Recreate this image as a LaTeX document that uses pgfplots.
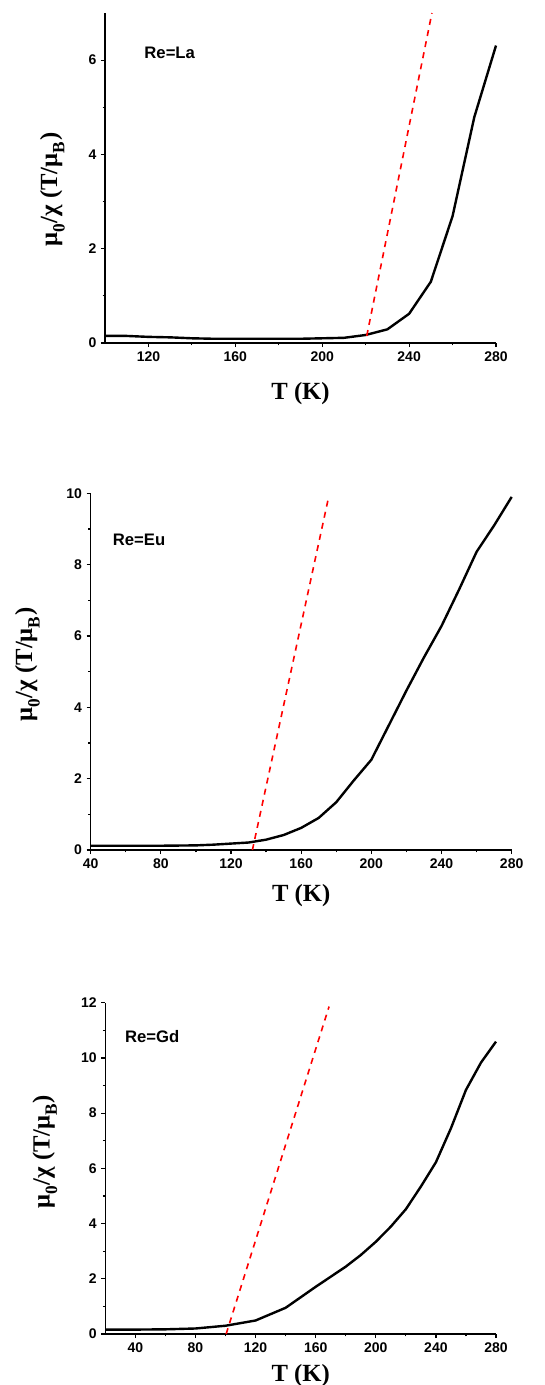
\documentclass[border=0pt]{standalone}
\usepackage{pgfplots}
\pgfplotsset{compat=1.18}
\usepackage{fontspec}
\setmainfont{Liberation Serif}
\newfontfamily\arial{Liberation Sans}

% panel data
\pgfplotstableread{
T chi
100 0.15
110 0.15
120 0.13
130 0.12
140 0.10
150 0.09
160 0.09
170 0.09
180 0.09
190 0.09
200 0.10
210 0.11
220 0.17
230 0.29
240 0.62
250 1.30
260 2.69
270 4.79
280 6.31
}\dataLa
\pgfplotstableread{
T chi
40 0.12
60 0.12
80 0.12
100 0.13
110 0.15
120 0.18
130 0.21
140 0.29
150 0.42
160 0.62
170 0.90
180 1.34
190 1.95
200 2.53
210 3.50
220 4.47
230 5.40
240 6.28
250 7.30
260 8.36
270 9.10
280 9.90
}\dataEu
\pgfplotstableread{
T chi
20 0.16
40 0.16
60 0.17
80 0.20
100 0.30
120 0.49
140 0.95
160 1.71
180 2.44
190 2.86
200 3.34
210 3.89
220 4.52
230 5.34
240 6.22
250 7.45
260 8.84
270 9.83
280 10.59
}\dataGd

\pgfplotsset{
  panel/.style={
    scale only axis,
    anchor=south west,
    axis x line*=bottom, axis y line*=left,
    axis line style={line width=0.9pt},
    tick style={black, line width=0.9pt},
    tick align=outside,
    major tick length=3pt, minor tick length=1.8pt,
    minor x tick num=1, minor y tick num=1,
    /pgf/number format/assume math mode=true,
    tick label style={font=\arial\bfseries\fontsize{10.5}{12}\selectfont},
    xlabel={\bfseries T (K)},
    ylabel={\bfseries μ\raisebox{-0.35ex}{\textsubscript{0}}/χ (T/μ\raisebox{-0.35ex}{\textsubscript{B}})},
    label style={font=\fontsize{18.5}{20}\selectfont},
    clip=false,
  },
  datacurve/.style={black, line width=1.8pt, no marks},
  fitline/.style={red, line width=1.2pt, dash pattern=on 4.5pt off 4pt, no marks},
}
\tikzset{tag/.style={font=\arial\bfseries\fontsize{12.5}{14}\selectfont, anchor=west}}

\begin{document}
\begin{tikzpicture}
\useasboundingbox (0,0) rectangle (408pt,-1038.75pt);

\begin{axis}[panel,
  at={(78.75pt,-257.25pt)}, width=293.25pt, height=247.5pt,
  xmin=100, xmax=280, ymin=0, ymax=7,
  xtick={120,160,200,240,280}, ytick={0,2,4,6},
  xlabel style={yshift=-9pt}, ylabel shift=11pt,
  ylabel style={at={(ticklabel cs:0.465)}},
]
\addplot[datacurve] table[x=T,y=chi] {\dataLa};
\addplot[fitline] coordinates {(220.5,0.15) (250.5,7.0)};
\node[tag] at (axis cs:116,6.16) {Re=La};
\end{axis}

\begin{axis}[panel,
  at={(68pt,-637.5pt)}, width=315.75pt, height=267.5pt,
  xmin=40, xmax=280, ymin=0, ymax=10,
  xtick={40,80,...,280}, ytick={0,2,...,10},
  xlabel style={yshift=-5pt}, ylabel shift=13pt,
  ylabel style={at={(ticklabel cs:0.52)}},
]
\addplot[datacurve] table[x=T,y=chi] {\dataEu};
\addplot[fitline] coordinates {(132.2,0) (175.5,9.86)};
\node[tag] at (axis cs:50,8.7) {Re=Eu};
\end{axis}

\begin{axis}[panel,
  at={(79pt,-1000.5pt)}, width=293pt, height=248.5pt,
  xmin=20, xmax=280, ymin=0, ymax=12,
  xtick={40,80,...,280}, ytick={0,2,...,12},
  xlabel style={yshift=-2pt}, ylabel shift=11pt,
  ylabel style={at={(ticklabel cs:0.55)}},
]
\addplot[datacurve] table[x=T,y=chi] {\dataGd};
\addplot[fitline] coordinates {(100.4,0) (168.9,11.86)};
\node[tag] at (axis cs:30,10.77) {Re=Gd};
\end{axis}
\end{tikzpicture}
\end{document}
